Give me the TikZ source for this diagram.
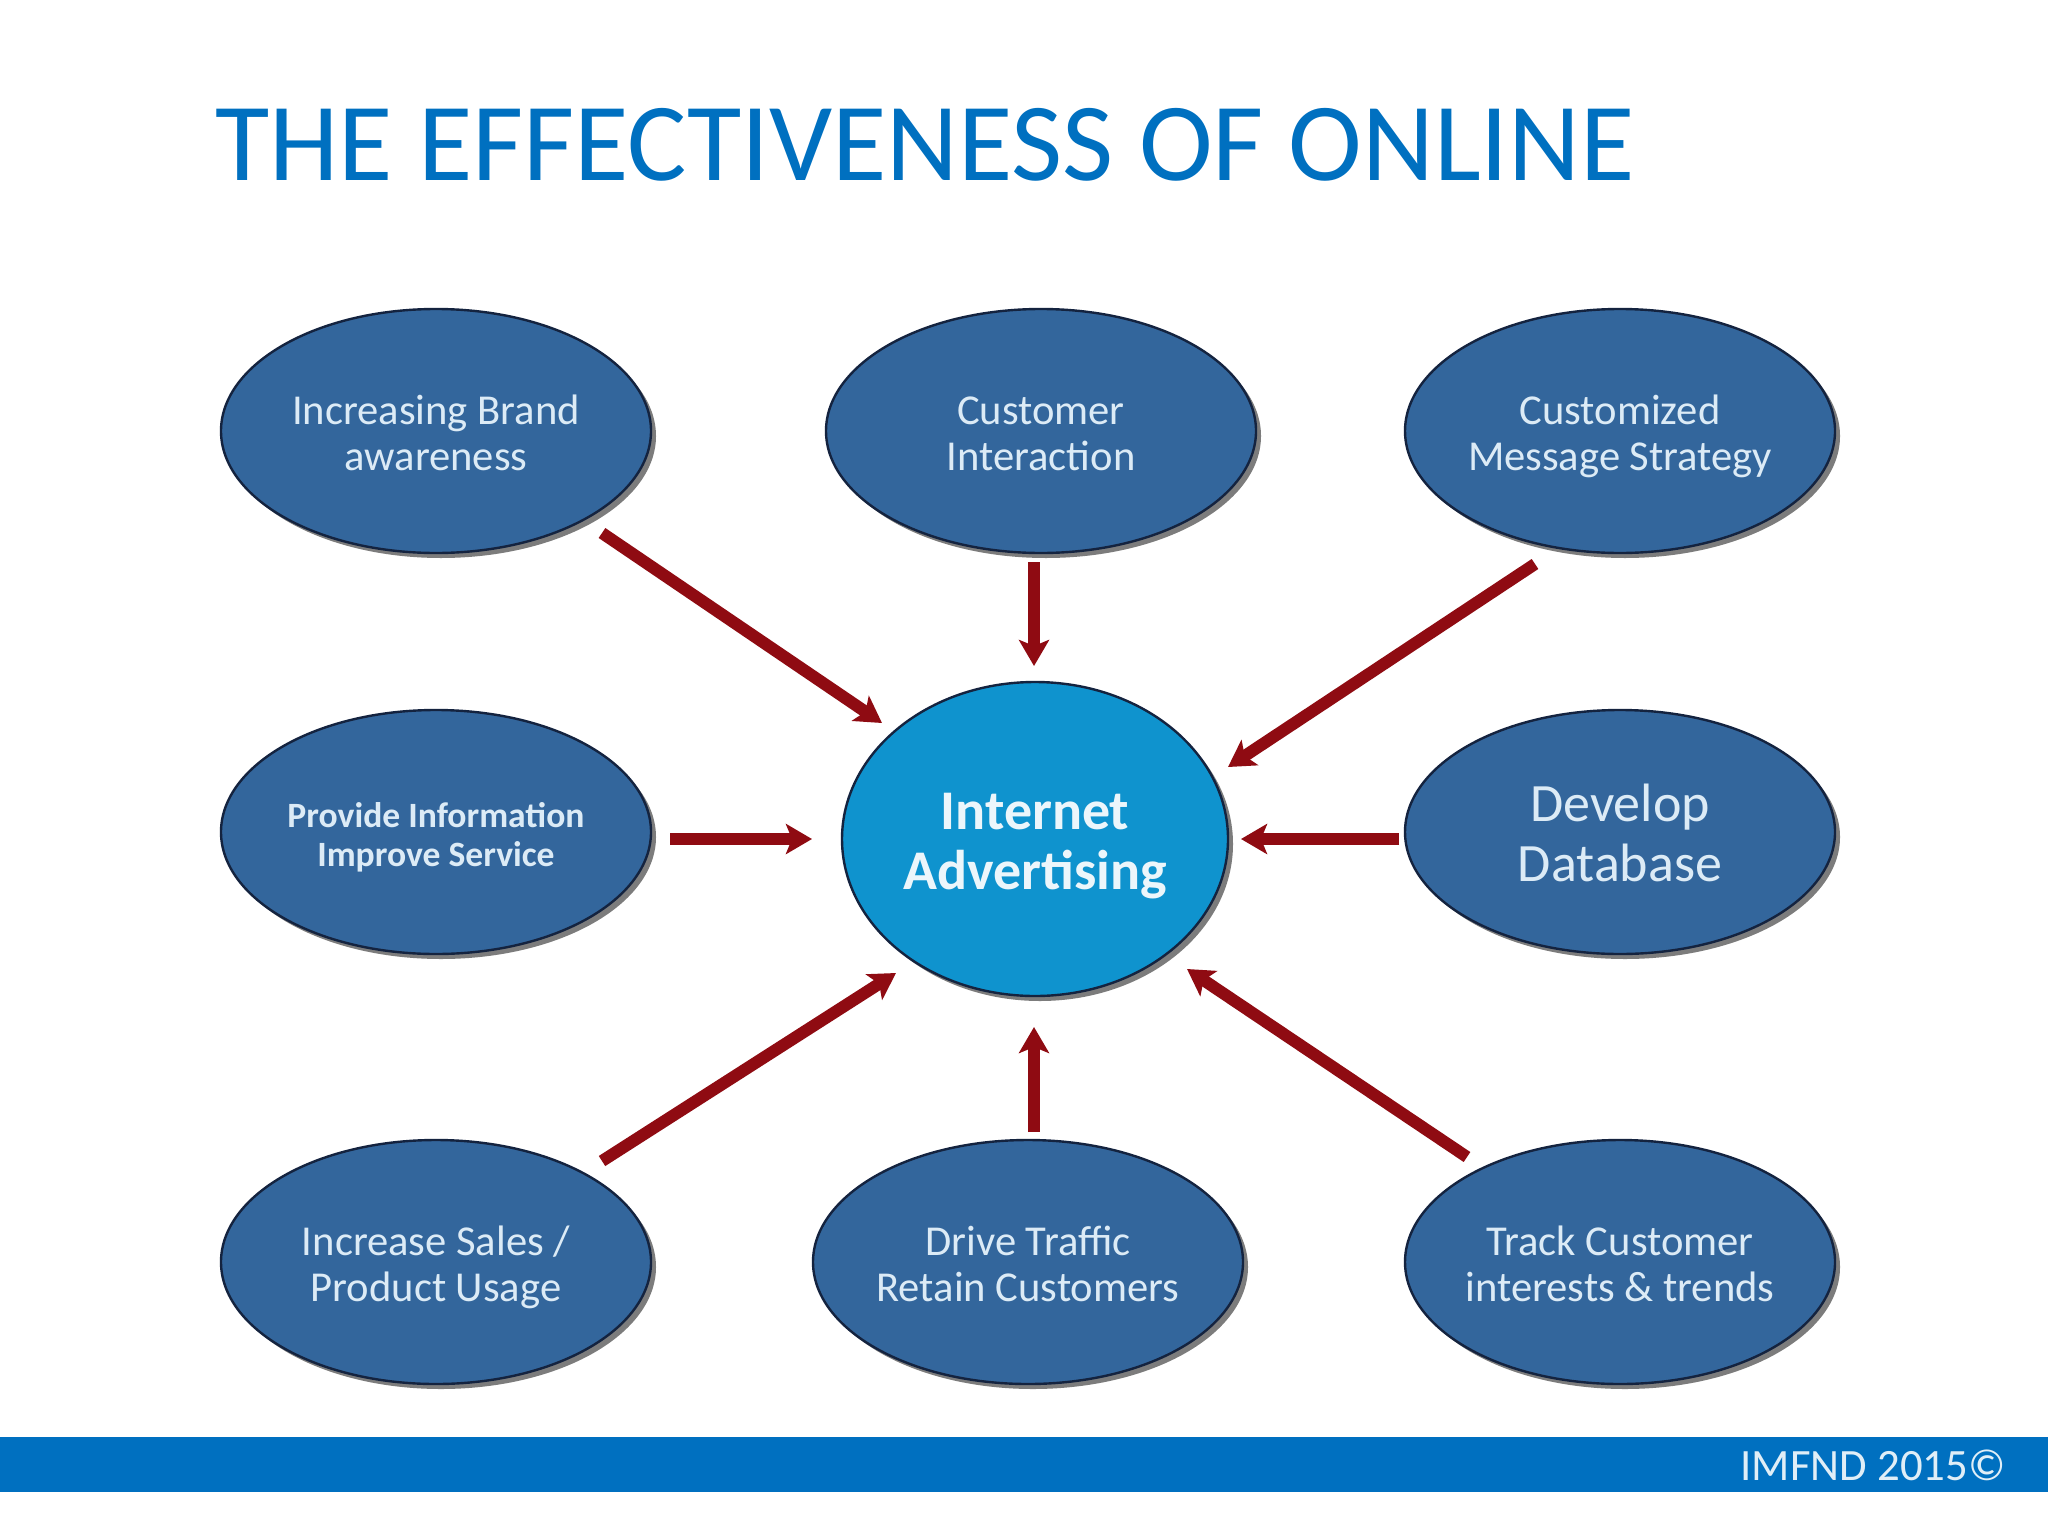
\documentclass[tikz,border=0pt]{standalone}
\usepackage{fontspec}
\setmainfont{Carlito}
\usetikzlibrary{shapes.geometric,shadows,arrows.meta}
\definecolor{barblue}{HTML}{0070C0}
\definecolor{ovalblue}{HTML}{33669C}
\definecolor{hubblue}{HTML}{0F93CE}
\definecolor{ovaledge}{HTML}{14233F}
\definecolor{arrowred}{HTML}{8F0B12}
\definecolor{ovaltext}{HTML}{DCEBF6}
\tikzset{
  ovalbase/.style={ellipse,draw=ovaledge,line width=1.2pt,inner ysep=0pt,inner xsep=-10pt,outer sep=0pt,align=center,text=ovaltext,
    drop shadow={shadow xshift=2.5pt,shadow yshift=-2.5pt,fill=black!60,opacity=.85}},
  oval/.style={ovalbase,fill=ovalblue,minimum width=215pt,minimum height=122pt,text height=40pt,text depth=1pt,font=\fontsize{21.3}{23}\selectfont},
  hubnode/.style={ovalbase,fill=hubblue,minimum width=193pt,minimum height=157pt,text height=52pt,text depth=2pt,text=white!92!hubblue,font=\fontsize{28}{30}\selectfont\bfseries},
  conn/.style={draw=arrowred,line width=6pt,-{Stealth[length=13pt,width=15pt,inset=3pt]}},
}
\begin{document}
\begin{tikzpicture}[x=0.5pt,y=-0.5pt]
\useasboundingbox (0,0) rectangle (2048,1536);
\fill[white] (0,0) rectangle (2048,1536);
\node[anchor=base west,inner sep=0pt,text=barblue,font=\fontsize{55.6}{60}\selectfont] (title) at (215,180) {THE EFFECTIVENESS OF ONLINE};
\node[oval] (n1) at (436,431) {Increasing Brand\\awareness};
\node[oval] (n2) at (1041,431) {Customer\\Interaction};
\node[oval] (n3) at (1620,431) {Customized\\Message Strategy};
\node[oval,text height=36pt,text depth=2pt,font=\fontsize{17.8}{19.5}\selectfont\bfseries] (n4) at (436,832) {Provide Information\\Improve Service};
\node[oval,text height=50pt,text depth=1pt,font=\fontsize{27}{30}\selectfont] (n5) at (1620,832) {Develop\\Database};
\node[oval] (n6) at (436,1262) {Increase Sales /\\Product Usage};
\node[oval] (n7) at (1028,1262) {Drive Traffic\\Retain Customers};
\node[oval] (n8) at (1620,1262) {Track Customer\\interests \& trends};
\node[hubnode] (hub) at (1035,839) {Internet\\Advertising};
\draw[conn] ([shift={(166,102)}]n1.center) -- ([shift={(-153,-116)}]hub.center);
\draw[conn] ([shift={(-7,131)}]n2.center) -- ([shift={(-1,-173)}]hub.center);
\draw[conn] ([shift={(-85,133)}]n3.center) -- ([shift={(193,-72)}]hub.center);
\draw[conn] ([shift={(234,7)}]n4.center) -- ([shift={(-223,0)}]hub.center);
\draw[conn] ([shift={(-221,7)}]n5.center) -- ([shift={(206,0)}]hub.center);
\draw[conn] ([shift={(166,-101)}]n6.center) -- ([shift={(-139,134)}]hub.center);
\draw[conn] ([shift={(6,-130)}]n7.center) -- ([shift={(-1,188)}]hub.center);
\draw[conn] ([shift={(-153,-105)}]n8.center) -- ([shift={(152,130)}]hub.center);
\fill[barblue] (0,1437) rectangle (2048,1492);
\node[anchor=base east,inner sep=0pt,text=white!88!barblue,font=\fontsize{22.4}{26}\selectfont] (foot) at (2006,1480) {IMFND 2015©};
\end{tikzpicture}
\end{document}
